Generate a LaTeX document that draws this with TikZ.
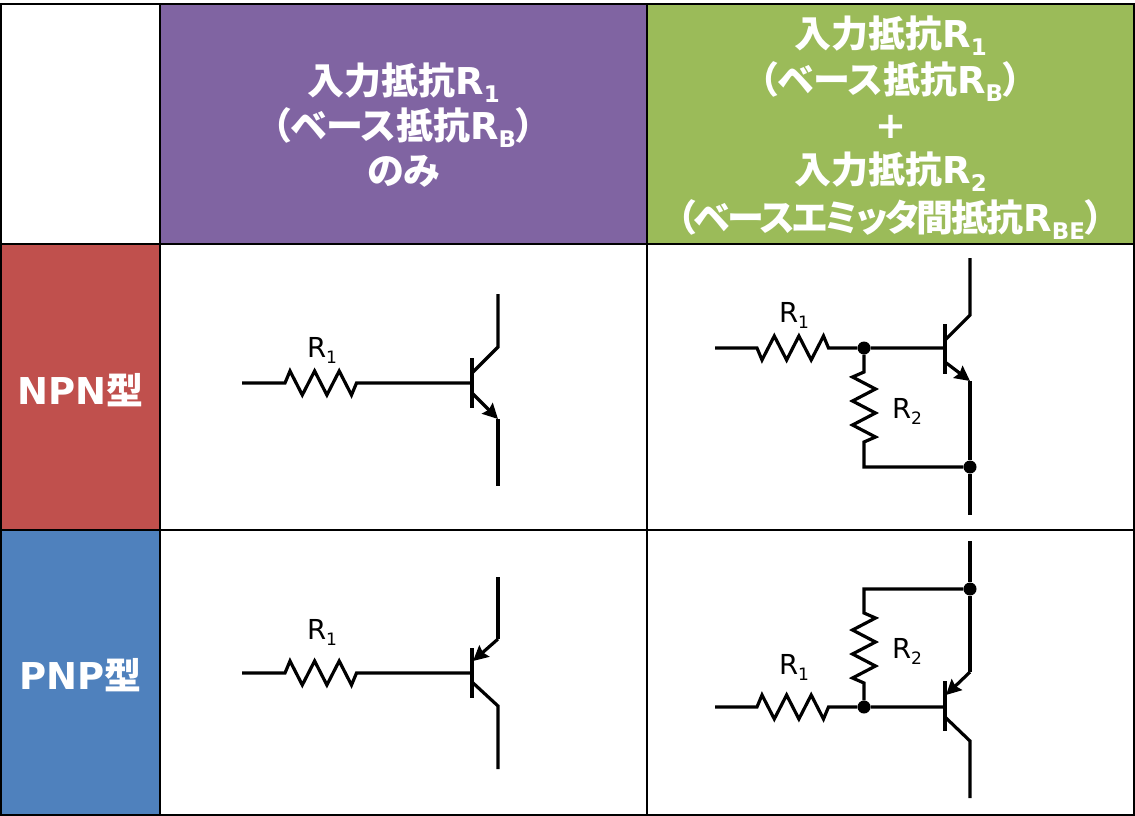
\documentclass[tikz,border=0pt]{standalone}
\usepackage{fontspec}
\usepackage{xcolor}
\setmainfont{DejaVu Sans}
\newfontfamily\jpfont[RawFeature=+palt]{Noto Sans CJK JP}
\newfontfamily\jptight[RawFeature=+palt, LetterSpace=-6]{Noto Sans CJK JP}
\usetikzlibrary{arrows.meta, positioning}

\definecolor{hdrpurple}{HTML}{8064A2}
\definecolor{hdrgreen}{HTML}{9BBB59}
\definecolor{rowred}{HTML}{C0504D}
\definecolor{rowblue}{HTML}{4F81BD}

\newcommand{\jp}[1]{{\jpfont #1}}
\newcommand{\lowidx}[1]{\raisebox{-0.22em}{\fontsize{0.62em}{1em}\selectfont #1}}
% resistor zigzags, the argument gives the side of the first step
\newcommand{\zigh}[1]{-- ++(5,{-12*#1}) -- ++(12.3,{24*#1}) -- ++(12.3,{-24*#1}) -- ++(12.3,{24*#1}) -- ++(12.3,{-24*#1}) -- ++(12.3,{24*#1}) -- ++(5,{-12*#1})}
\newcommand{\zigv}[1]{-- ++({11.5*#1},5) -- ++({-23*#1},12) -- ++({23*#1},12) -- ++({-23*#1},12) -- ++({23*#1},12) -- ++({-23*#1},12) -- ++({11.5*#1},5)}

\begin{document}
\begin{tikzpicture}[
    x=1pt, y=-1pt,
    node distance=0pt,
    cell/.style={rectangle, draw=black, line width=2pt, outer sep=0pt, inner sep=0pt},
    celltext/.style={inner sep=0pt, align=center, text=white, font=\fontsize{37}{45}\selectfont\bfseries},
    wire/.style={line width=3.2pt, line join=miter},
    bar/.style={line width=4.2pt},
    emitter/.style={line width=3.2pt, -{Stealth[length=15pt, width=15pt, inset=2pt]}},
    dot/.style={circle, fill=black, minimum size=13pt, inner sep=0pt},
    value/.style={inner sep=0pt, font=\fontsize{27.5}{27.5}\selectfont}
]
\useasboundingbox (0,0) rectangle (1135,816);

% Table cells
\node[cell, anchor=north west, minimum width=159pt, minimum height=240pt] (corner) at (1,4) {};
\node[cell, right=of corner, fill=hdrpurple, minimum width=487pt, minimum height=240pt] (hdrR1) {};
\node[cell, right=of hdrR1, fill=hdrgreen, minimum width=487pt, minimum height=240pt] (hdrR2) {};
\node[cell, below=of corner, fill=rowred, minimum width=159pt, minimum height=286pt] (rowNPN) {};
\node[cell, below=of rowNPN, fill=rowblue, minimum width=159pt, minimum height=285pt] (rowPNP) {};
\node[cell, below=of hdrR1, minimum width=487pt, minimum height=286pt] (cellNa) {};
\node[cell, below=of hdrR2, minimum width=487pt, minimum height=286pt] (cellNb) {};
\node[cell, below=of cellNa, minimum width=487pt, minimum height=285pt] (cellPa) {};
\node[cell, below=of cellNb, minimum width=487pt, minimum height=285pt] (cellPb) {};

% Cell texts
\node[celltext] (textR1) at ([yshift=-1pt]hdrR1.center)
    {\jp{入力抵抗}R\lowidx{1}\\\jp{（ベース抵抗}R\lowidx{B}\jp{）}\\\jp{のみ}};
\node[celltext] (textR2) at ([yshift=-4pt]hdrR2.center)
    {\jp{入力抵抗}R\lowidx{1}\\[1pt]\jp{（ベース抵抗}R\lowidx{B}\jp{）}\\+\\\jp{入力抵抗}R\lowidx{2}\\[3pt]{\jptight （ベースエミッタ間抵抗}R\lowidx{BE}\jp{）}};
\node[celltext] (textNPN) at ([yshift=-3pt]rowNPN.center) {NPN\jp{型}};
\node[celltext] (textPNP) at ([yshift=-3pt]rowPNP.center) {PNP\jp{型}};

% NPN with R1 only
\coordinate (inNa) at (242,383);
\coordinate (baseNa) at (472,383);
\coordinate (colNa) at (498,294);
\coordinate (hipNa) at (498,347);
\coordinate (emiNa) at (498,419);
\coordinate (endNa) at (498,486);
\node[value] (labelNa) at (322,350) {R\lowidx{1}};
\draw[wire] (inNa) -- ++(43,0) \zigh{1} -- (baseNa);
\draw[bar] (472,358) -- (472,408);
\draw[wire] (colNa) -- (hipNa) -- (472,373);
\draw[emitter] (472,393) -- (emiNa);
\draw[wire] (emiNa) -- (endNa);

% PNP with R1 only
\coordinate (inPa) at (242,673);
\coordinate (basePa) at (472,673);
\coordinate (colPa) at (498,769);
\coordinate (hipPa) at (498,706);
\coordinate (emiPa) at (498,639);
\coordinate (endPa) at (498,577);
\node[value] (labelPa) at (322,632) {R\lowidx{1}};
\draw[wire] (inPa) -- ++(43,0) \zigh{1} -- (basePa);
\draw[bar] (472,648) -- (472,698);
\draw[wire] (colPa) -- (hipPa) -- (472,682);
\draw[emitter] (emiPa) -- (473,661);
\draw[wire] (endPa) -- (emiPa);

% NPN with R1 and R2
\coordinate (inNb) at (715,348);
\coordinate (baseNb) at (945,348);
\coordinate (colNb) at (970,258);
\coordinate (hipNb) at (970,315);
\coordinate (emiNb) at (970,381);
\coordinate (endNb) at (970,515);
\node[dot] (jointNb) at (864,348) {};
\node[dot] (tieNb) at (970,467) {};
\node[value] (labelNb) at (794,315) {R\lowidx{1}};
\node[value] (labelNc) at (907,411) {R\lowidx{2}};
\draw[wire] (inNb) -- ++(42,0) \zigh{-1} -- (jointNb) -- (baseNb);
\draw[wire] (jointNb) -- (864,372) \zigv{-1} -- (864,467) -- (tieNb);
\draw[bar] (945,324) -- (945,374);
\draw[wire] (colNb) -- (hipNb) -- (945,340);
\draw[emitter] (945,362) -- (emiNb);
\draw[wire] (emiNb) -- (tieNb) -- (endNb);

% PNP with R1 and R2
\coordinate (inPb) at (715,707);
\coordinate (basePb) at (945,707);
\coordinate (colPb) at (970,798);
\coordinate (hipPb) at (970,741);
\coordinate (emiPb) at (970,672);
\coordinate (endPb) at (970,541);
\node[dot] (jointPb) at (864,707) {};
\node[dot] (tiePb) at (970,589) {};
\node[value] (labelPb) at (794,667) {R\lowidx{1}};
\node[value] (labelPc) at (907,651) {R\lowidx{2}};
\draw[wire] (inPb) -- ++(42,0) \zigh{1} -- (jointPb) -- (basePb);
\draw[wire] (tiePb) -- (864,589) -- (864,613) \zigv{1} -- (jointPb);
\draw[bar] (945,681) -- (945,731);
\draw[wire] (colPb) -- (hipPb) -- (945,717);
\draw[emitter] (emiPb) -- (946,695);
\draw[wire] (endPb) -- (tiePb) -- (emiPb);

\end{tikzpicture}
\end{document}
